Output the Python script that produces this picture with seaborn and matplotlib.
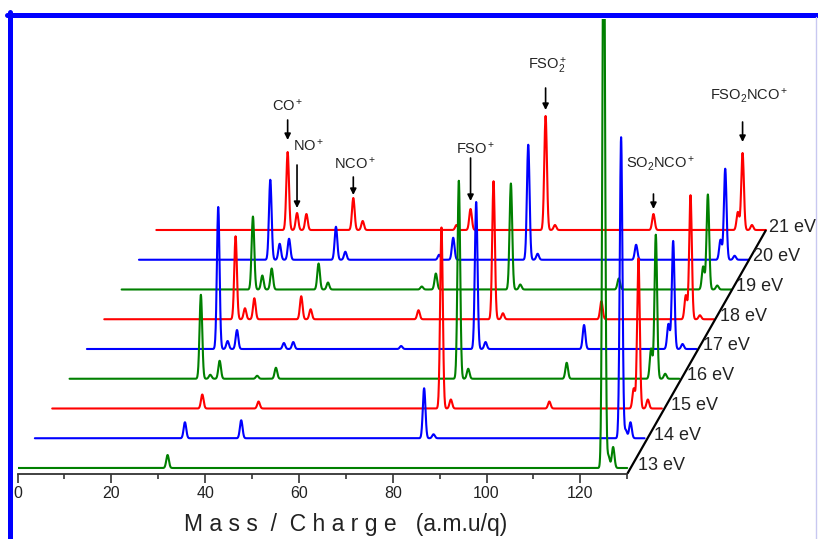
import numpy as np
import pandas as pd
import seaborn as sns
import matplotlib.pyplot as plt
from matplotlib.lines import Line2D

# electron energies, bottom trace first
energies = ["13 eV", "14 eV", "15 eV", "16 eV", "17 eV", "18 eV", "19 eV", "20 eV", "21 eV"]
trace_colors = ["#008000", "#0000ff", "#ff0000"] * 3

# ion masses seen in the spectra and peak heights per energy (arb. units)
ion_mass = [28, 30, 32, 40, 42, 44, 64, 67, 83, 85, 106, 124, 125, 126, 127]
int_13 = [0, 0, 13, 0, 0, 0, 0, 0, 0, 0, 0, 0, 600, 12, 21]
int_14 = [0, 0, 16, 0, 0, 18, 0, 0, 50, 4, 0, 0, 301, 8, 16]
int_15 = [0, 0, 14, 0, 0, 7, 0, 0, 181, 9, 7, 20, 150, 0, 9]
int_16 = [84, 4, 18, 3, 0, 11, 0, 0, 198, 10, 16, 30, 144, 0, 5]
int_17 = [142, 8, 19, 0, 6, 7, 0, 3, 147, 7, 24, 25, 108, 0, 5]
int_18 = [83, 11, 21, 0, 23, 10, 0, 9, 138, 6, 18, 24, 124, 0, 4]
int_19 = [73, 14, 21, 0, 26, 7, 3, 16, 106, 5, 11, 23, 95, 0, 4]
int_20 = [80, 16, 21, 0, 33, 8, 5, 22, 115, 6, 15, 20, 91, 0, 4]
int_21 = [78, 17, 16, 0, 32, 9, 5, 21, 114, 5, 16, 18, 77, 0, 5]
intensities = [int_13, int_14, int_15, int_16, int_17, int_18, int_19, int_20, int_21]

# labelled ions on the 21 eV trace
ann_mass = [28, 30, 42, 67, 83, 106, 125]
ann_text = ["CO$^+$", "NO$^+$", "NCO$^+$", "FSO$^+$", "FSO$_2^+$", "SO$_2$NCO$^+$", "FSO$_2$NCO$^+$"]

# waterfall layout
X_STEP = 3.7
Y_BASE = 6
Y_STEP = 29.75
PX = 4.69  # pixels per mass unit
SIGMA = 0.28

sns.set_theme(style="white")
plt.rcParams["font.family"] = ["Liberation Sans", "DejaVu Sans"]
plt.rcParams["mathtext.fontset"] = "custom"
plt.rcParams["mathtext.rm"] = "Liberation Sans"
plt.rcParams["mathtext.it"] = "Liberation Sans:italic"
plt.rcParams["mathtext.bf"] = "Liberation Sans:bold"
plt.rcParams["mathtext.default"] = "regular"

mass = np.linspace(0, 130, 2601)
frames = []
for i, (e, ints) in enumerate(zip(energies, intensities)):
    y = np.zeros_like(mass)
    for m, h in zip(ion_mass, ints):
        y += h * np.exp(-0.5 * ((mass - m) / SIGMA) ** 2)
    frames.append(pd.DataFrame({"x": mass + i * X_STEP,
                                "y": y + Y_BASE + i * Y_STEP,
                                "energy": e}))
df = pd.concat(frames, ignore_index=True)

fig = plt.figure(figsize=(8.18, 5.39), dpi=100)
ax = fig.add_axes([17.5 / 818, 65 / 539, 792.5 / 818, 455 / 539])

palette = dict(zip(energies, trace_colors))
sns.lineplot(data=df, x="x", y="y", hue="energy", hue_order=energies[::-1],
             palette=palette, estimator=None, sort=False, legend=False,
             lw=1.5, ax=ax)

ax.set_xlim(0, 792.5 / PX)
ax.set_ylim(0, 455)

# diagonal energy axis
top_base = Y_BASE + 8 * Y_STEP
ax.plot([130, 130 + 8 * X_STEP], [0, top_base], color="black", lw=1.6,
        solid_capstyle="butt")
for i, e in enumerate(energies):
    ax.text(130 + i * X_STEP + 2.3 - 0.21 * i, Y_BASE + i * Y_STEP + 3, e,
            ha="left", va="center", fontsize=13, color="#222222")

# arrows and labels: gap, arrow length, text offset, text dx (pixels)
ann_layout = [(12, 20, 14, 0, "center"), (5, 43, 19, -4, "left"),
              (3, 18, 13, 2, "center"), (8, 43, 9, 5, "center"),
              (6, 22, 22, 2, "center"), (5, 15, 30, 7, "center"),
              (11, 20, 26, 6, "center")]
top_ints = dict(zip(ion_mass, int_21))
for m, txt, (gap, alen, toff, dx, ha) in zip(ann_mass, ann_text, ann_layout):
    xpk = m + 8 * X_STEP
    head = top_base + top_ints[m] + gap
    tail = head + alen
    ax.annotate("", xy=(xpk, head), xytext=(xpk, tail),
                arrowprops=dict(arrowstyle="-|>", color="black", lw=1.2,
                                mutation_scale=9, shrinkA=0, shrinkB=0))
    ax.text(xpk + dx / PX, tail + toff, txt, ha=ha, va="center",
            fontsize=10.5, color="#222222")

for s in ["left", "right", "top"]:
    ax.spines[s].set_visible(False)
ax.spines["bottom"].set_bounds(0, 130)
ax.spines["bottom"].set_color("#333333")
ax.spines["bottom"].set_linewidth(1.3)
ax.set_xticks(range(0, 121, 20))
ax.set_xticks(range(10, 131, 20), minor=True)
ax.tick_params(axis="x", which="both", bottom=True, direction="out",
               color="#333333", width=1.2, labelsize=11.5, pad=2,
               labelcolor="#222222")
ax.tick_params(axis="x", which="major", length=6.5)
ax.tick_params(axis="x", which="minor", length=3.5)
ax.set_yticks([])
ax.set_xlabel("")
ax.set_ylabel("")

fig.text(345.5 / 818, 1 - 525 / 539, "M a s s  /  C h a r g e   (a.m.u/q)",
         ha="center", va="center", fontsize=16.5, color="#222222")

# blue frame of the original figure
fig.add_artist(Line2D([9.5 / 818, 9.5 / 818], [0, 1 - 12 / 539],
                      transform=fig.transFigure, color="#0000ff", lw=3.6))
fig.add_artist(Line2D([7 / 818, 1], [1 - 14.5 / 539, 1 - 14.5 / 539],
                      transform=fig.transFigure, color="#0000ff", lw=3.6))
fig.add_artist(Line2D([816 / 818, 816 / 818], [0, 1 - 17 / 539],
                      transform=fig.transFigure, color="#c8c8f0", lw=1.0))

fig.savefig("out.png", dpi=100, facecolor="white")
